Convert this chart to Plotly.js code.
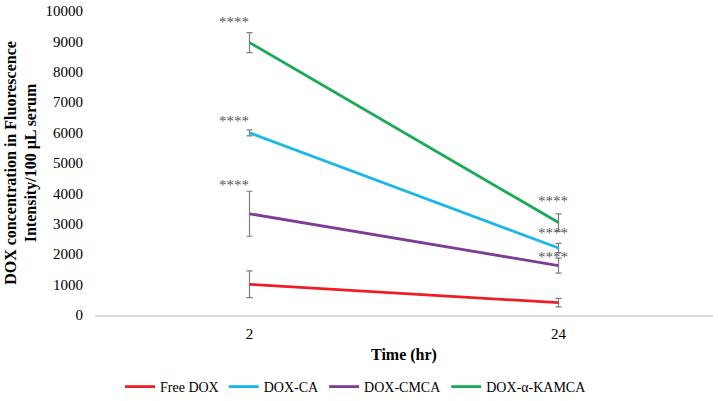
<!DOCTYPE html>
<html><head><meta charset="utf-8">
<script src="https://cdn.plot.ly/plotly-3.0.1.min.js"></script>
<style>html,body{margin:0;padding:0;background:#fff}#c{width:718px;height:401px}</style>
</head><body><div id="c"></div>
<script>
const times = ["2", "24"];
const seriesNames = ["Free DOX", "DOX-CA", "DOX-CMCA", "DOX-α-KAMCA"];
const freeDox = [1010, 405];
const doxCA = [5990, 2205];
const doxCMCA = [3330, 1625];
const doxKAMCA = [8960, 3040];
const errFreeDox = [440, 140];
const errCA = [100, 150];
const errCMCA = [740, 245];
const errKAMCA = [330, 285];
const sigLabels = ["****", "****"];

const FONT = "Liberation Serif, Times New Roman, serif";
const colors = ["#ee1c25", "#1ab7ea", "#7d3c98", "#1aab57"];
const values = [freeDox, doxCA, doxCMCA, doxKAMCA];
const errs = [errFreeDox, errCA, errCMCA, errKAMCA];

const traces = values.map((v, i) => ({
  type: "scatter", mode: "lines", x: times, y: v, name: seriesNames[i],
  line: {color: colors[i], width: 2.8},
  error_y: {type: "data", array: errs[i], visible: true, color: "#7f7f7f", thickness: 1.2, width: 3}
}));

// significance markers for CA, CMCA, KAMCA at both times (category index positions)
const annos = [];
const shifts2 = {1: 9, 2: 6, 3: 11};
const shifts24 = {1: 15, 2: 9, 3: 22};
[1, 2, 3].forEach(i => {
  annos.push({x: 0, y: values[i][0] + errs[i][0], xref: "x", yref: "y", text: sigLabels[0],
    showarrow: false, xshift: -16, yshift: shifts2[i], yanchor: "middle",
    font: {family: FONT, size: 15, color: "#595959"}});
  annos.push({x: 1, y: values[i][1], xref: "x", yref: "y", text: sigLabels[1],
    showarrow: false, xshift: -6, yshift: shifts24[i], yanchor: "middle",
    font: {family: FONT, size: 15, color: "#595959"}});
});

const layout = {
  width: 718, height: 401,
  margin: {l: 95, r: 5, t: 11, b: 86},
  paper_bgcolor: "#fff", plot_bgcolor: "#fff",
  font: {family: FONT, size: 14, color: "#000"},
  showlegend: true,
  legend: {orientation: "h", xref: "container", yref: "container", x: 356/718, xanchor: "center",
    y: 14/401, yanchor: "middle",
    font: {family: FONT, size: 14, color: "#000"}, traceorder: "normal"},
  xaxis: {type: "category", range: [-0.5, 1.5], showgrid: false, showline: true, automargin: false,
    linecolor: "#d9d9d9", linewidth: 1.5, ticks: "outside", ticklen: 4, tickcolor: "rgba(0,0,0,0)", zeroline: false,
    tickfont: {family: FONT, size: 15, color: "#000"},
    title: {text: "<b>Time (hr)</b>", font: {family: FONT, size: 16, color: "#000"}, standoff: 8}},
  yaxis: {range: [0, 10000], dtick: 1000, tickformat: "d", showgrid: false, showline: false, zeroline: false,
    automargin: false, ticks: "outside", ticklen: 8, tickcolor: "rgba(0,0,0,0)",
    tickfont: {family: FONT, size: 15, color: "#000"},
    title: {text: "<b>DOX concentration in Fluorescence<br>Intensity/100 µL serum</b>", font: {family: FONT, size: 16, color: "#000"}, standoff: 4}},
  annotations: annos
};
Plotly.newPlot("c", traces, layout, {displayModeBar: false, staticPlot: true});
</script></body></html>
